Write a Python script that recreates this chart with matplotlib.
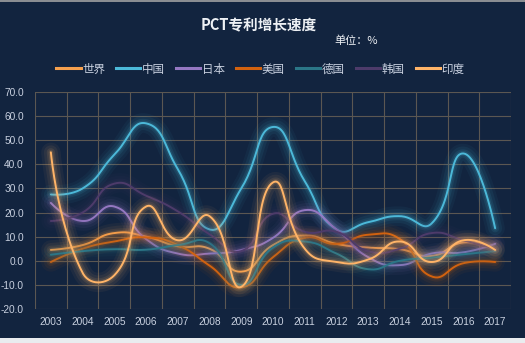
import numpy as np
import matplotlib
matplotlib.use("Agg")
import matplotlib.pyplot as plt
from matplotlib.lines import Line2D
from matplotlib.patches import Rectangle

# ---- data -------------------------------------------------------------
years = ["2003", "2004", "2005", "2006", "2007", "2008", "2009", "2010",
         "2011", "2012", "2013", "2014", "2015", "2016", "2017"]

world   = [4.5, 6.5, 11.5, 10.0, 6.0, 5.0, -4.5, 6.5, 10.5, 7.0, 5.5, 4.8, 2.0, 7.6, 4.8]
china   = [27.5, 30.0, 44.0, 57.0, 38.0, 13.0, 30.0, 55.5, 33.0, 13.0, 16.0, 18.5, 15.5, 44.5, 13.5]
japan   = [24.0, 16.5, 22.5, 9.0, 3.0, 3.0, 4.5, 9.5, 21.0, 13.0, 1.5, -1.8, 3.0, 3.5, 7.0]
usa     = [-0.5, 5.0, 8.0, 9.7, 6.5, -2.0, -11.0, 1.5, 9.5, 7.0, 10.8, 9.0, -6.5, -1.0, -0.5]
germany = [2.5, 4.0, 4.8, 4.6, 6.5, 7.3, -10.0, 5.5, 8.0, 3.0, -3.5, 0.0, 1.3, 2.7, 4.0]
korea   = [16.5, 20.0, 32.0, 27.0, 20.5, 11.0, 4.0, 19.5, 12.0, 12.0, 4.0, 5.0, 11.5, 8.5, 5.0]
india   = [45.0, -5.0, -6.0, 22.5, 8.5, 18.5, -10.8, 32.5, 5.0, -0.5, 0.5, 8.0, -0.5, 8.5, 4.5]

series_names = ["世界", "中国", "日本", "美国", "德国", "韩国", "印度"]
series_values = [world, china, japan, usa, germany, korea, india]
series_colors = ["#f5a04e", "#4cb9d9", "#9578c2", "#d2620f", "#2b7687", "#4d3b6a", "#ffb468"]

y_ticks = [-20, -10, 0, 10, 20, 30, 40, 50, 60, 70]

# ---- style ------------------------------------------------------------
BG = "#12243f"
GRID = "#5b5752"
TXT = "#c9d1e0"
NUM_FONT = ["Liberation Sans", "DejaVu Sans"]
CJK_FONT = ["Noto Sans CJK SC", "DejaVu Sans"]
plt.rcParams["font.family"] = CJK_FONT

W, H = 525, 343
fig = plt.figure(figsize=(W / 100, H / 100), dpi=100, facecolor=BG)

# thin frame strips along the canvas edges
fig.patches.append(Rectangle((0, 1 - 2 / H), 1, 2 / H, transform=fig.transFigure,
                             facecolor="#8a8d92", edgecolor="none", zorder=0))
fig.patches.append(Rectangle((0, 0), 1, 5 / H, transform=fig.transFigure,
                             facecolor="#e9ecef", edgecolor="none", zorder=0))

left, right, top, bottom = 35, 511, 92, 309
ax = fig.add_axes([left / W, 1 - bottom / H, (right - left) / W, (bottom - top) / H])
ax.set_facecolor(BG)

n = len(years)
ax.set_xlim(-0.5, n - 0.5)
ax.set_ylim(-20, 70)

# pixel scale of one category / one unit, used for the curve smoothing
px_x = (right - left) / n
px_y = (bottom - top) / 90.0


def smooth_curve(xs, ys, smooth=0.5, samples=30):
    """Cubic Bezier smoothing of a polyline (control points from neighbour vectors)."""
    pts = np.column_stack([np.asarray(xs, float) * px_x, np.asarray(ys, float) * px_y])
    m = len(pts)
    cps = []
    for i in range(m):
        p = pts[i]
        if i == 0 or i == m - 1:
            cps.append((p.copy(), p.copy()))
            continue
        prev, nxt = pts[i - 1], pts[i + 1]
        v = (nxt - prev) * smooth
        d0 = np.linalg.norm(p - prev)
        d1 = np.linalg.norm(p - nxt)
        s = d0 + d1
        if s:
            d0, d1 = d0 / s, d1 / s
        cps.append((p - v * d0, p + v * d1))
    out = [pts[0]]
    t = np.linspace(0, 1, samples)[1:, None]
    for i in range(m - 1):
        p0, p3 = pts[i], pts[i + 1]
        c1, c2 = cps[i][1], cps[i + 1][0]
        seg = ((1 - t) ** 3) * p0 + 3 * ((1 - t) ** 2) * t * c1 + 3 * (1 - t) * t ** 2 * c2 + t ** 3 * p3
        out.extend(seg)
    out = np.array(out)
    return out[:, 0] / px_x, out[:, 1] / px_y


x_idx = np.arange(n)
for k, (name, vals, col) in enumerate(zip(series_names, series_values, series_colors)):
    cx, cy = smooth_curve(x_idx, vals)
    z = 3 + k
    # soft glow around each line
    for lw, a in [(14, 0.05), (10, 0.07), (6, 0.10), (3.4, 0.14)]:
        ax.plot(cx, cy, color=col, lw=lw, alpha=a, solid_capstyle="round", zorder=z)
    ax.plot(cx, cy, color=col, lw=1.4, solid_capstyle="round", zorder=z + 0.5, label=name)

# grid: boundaries between categories and every 10 units
for xb in np.arange(-0.5, n, 1.0):
    ax.axvline(xb, color=GRID, lw=0.8, zorder=1)
for yv in y_ticks:
    ax.axhline(yv, color=GRID, lw=0.8, zorder=1)
for sp in ax.spines.values():
    sp.set_visible(False)

ax.set_xticks(x_idx)
ax.set_xticklabels(years)
ax.set_yticks(y_ticks)
ax.set_yticklabels([f"{v:.1f}" for v in y_ticks])
ax.tick_params(axis="both", length=0, colors=TXT, labelsize=7.3)
ax.tick_params(axis="x", pad=6)
ax.tick_params(axis="y", pad=8)
for lab in ax.get_xticklabels() + ax.get_yticklabels():
    lab.set_family(NUM_FONT)

# titles
fig.text(259 / W, 1 - 25 / H, "PCT专利增长速度", ha="center", va="center",
         color="#eef1f5", fontsize=10.5, fontweight="bold", family=CJK_FONT)
fig.text(356 / W, 1 - 41 / H, "单位：%", ha="center", va="center",
         color="#eef1f5", fontsize=8, style="italic", family=CJK_FONT)

# legend
handles = [Line2D([], [], color=c, lw=2.2) for c in series_colors]
leg = fig.legend(handles, series_names, loc="center", ncol=7,
                 bbox_to_anchor=(260.5 / W, 1 - 69 / H), frameon=False,
                 fontsize=8.3, handlelength=2.1, handletextpad=0.15,
                 columnspacing=0.95, borderpad=0, borderaxespad=0)
for t in leg.get_texts():
    t.set_color(TXT)

fig.savefig("out.png", dpi=100, facecolor=BG)
